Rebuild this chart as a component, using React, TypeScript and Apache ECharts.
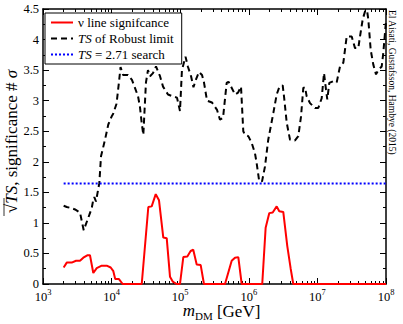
import React, { useEffect, useRef } from 'react';
import * as echarts from 'echarts';

const FONT = '"Liberation Serif", "DejaVu Serif", serif';

// TS of Robust limit (black dashed)
const robustMass = [2000, 2220, 2620, 2930, 3460, 3920, 4730, 5130, 5410, 5600, 5920, 6620, 7010, 8010, 8950, 10000, 10500, 11800, 12800, 13500, 14700, 17300, 19800, 21900, 24300, 25900, 27500, 29000, 31700, 33900, 36300, 40100, 44400, 50800, 56200, 66400, 78500, 89800, 99300, 106000, 119500, 130000, 144000, 156000, 170000, 188000, 208000, 222000, 246000, 291000, 344000, 380000, 421000, 476000, 506000, 569000, 629000, 696000, 770000, 831000, 880000, 983000, 1.10e6, 1.23e6, 1.30e6, 1.42e6, 1.56e6, 1.72e6, 1.92e6, 2.28e6, 2.55e6, 2.78e6, 3.12e6, 3.26e6, 3.57e6, 3.99e6, 4.72e6, 5.27e6, 5.77e6, 6.23e6, 6.60e6, 6.98e6, 7.80e6, 9.23e6, 1.03e7, 1.155e7, 1.248e7, 1.335e7, 1.394e7, 1.491e7, 1.705e7, 1.911e7, 2.135e7, 2.386e7, 2.674e7, 3.162e7, 3.533e7, 3.947e7, 4.178e7, 4.574e7, 4.942e7, 5.284e7, 5.521e7, 5.984e7, 6.53e7, 7.15e7, 7.72e7, 8.66e7, 9.13e7, 1e8];
const robustTS = [1.28, 1.26, 1.24, 1.22, 1.17, 0.88, 1.13, 1.24, 1.38, 1.42, 1.35, 1.65, 2.09, 2.36, 2.61, 2.74, 2.78, 2.95, 3.3, 3.55, 3.42, 3.42, 3.34, 3.21, 3.07, 2.9, 2.63, 2.44, 3.3, 3.5, 3.4, 3.45, 3.56, 3.4, 3.23, 3.1, 3.07, 3.05, 2.83, 3.5, 3.72, 3.55, 3.4, 3.22, 3.35, 3.47, 3.42, 3.3, 3.0, 2.97, 2.85, 2.69, 2.72, 3.29, 3.31, 3.2, 3.1, 3.13, 3.23, 2.5, 2.44, 2.42, 2.31, 2.14, 1.98, 1.68, 1.68, 1.92, 2.36, 2.8, 3.1, 3.22, 3.25, 3.07, 2.64, 2.36, 2.35, 2.42, 2.74, 3.21, 3.22, 3.07, 2.96, 2.88, 2.88, 3.04, 3.45, 3.18, 3.02, 3.29, 3.32, 3.3, 3.56, 3.62, 4.05, 4.05, 3.86, 3.86, 4.05, 4.33, 4.46, 4.48, 4.33, 3.83, 3.59, 3.43, 3.5, 3.56, 3.78, 4.3];

// nu line significance (red)
const lineMass = [2000, 2220, 2620, 3030, 3460, 3870, 4420, 4840, 5410, 6070, 7170, 8480, 9700, 10600, 11300, 12800, 14500, 27500, 34300, 38400, 44000, 49100, 56700, 63600, 71000, 77700, 88900, 99300, 111000, 127000, 142000, 155000, 174000, 199000, 222000, 450000, 563000, 629000, 703000, 788000, 1.57e6, 1.76e6, 1.99e6, 2.23e6, 2.55e6, 2.78e6, 3.18e6, 3.64e6, 4.08e6, 4.45e6, 1e8];
const lineSig = [0.27, 0.35, 0.35, 0.38, 0.38, 0.43, 0.47, 0.47, 0.18, 0.26, 0.30, 0.30, 0.27, 0.21, 0.08, 0.08, 0, 0, 1.26, 1.27, 1.47, 1.37, 0.76, 0.75, 0.12, 0.04, 0, 0, 0.44, 0.45, 0.54, 0.56, 0.32, 0.31, 0, 0, 0.38, 0.43, 0.44, 0, 0, 0.92, 1.16, 1.17, 1.27, 1.19, 1.18, 0.62, 0.25, 0, 0];

// TS = 2.71 search level (blue dotted)
const searchMass = [2000, 1e8];
const searchLevel = [1.645, 1.645];

const yTickLabels = ['0', '0.5', '1', '1.5', '2', '2.5', '3', '3.5', '4', '4.5'];

const seriesNames = ['ν line signifcance', 'TS of Robust limit', 'TS = 2.71 search'];
const legendLabels: Record<string, string> = {
  'ν line signifcance': 'ν line signifcance',
  'TS of Robust limit': '{i|TS} of Robust limit',
  'TS = 2.71 search': '{i|TS} = 2.71 search',
};
const creditText = 'El Aisati, Gustafsson, Hambye (2015)';

const zip = (xs: number[], ys: number[]) => xs.map((x, i) => [x, ys[i]]);

export default function App() {
  const ref = useRef<HTMLDivElement>(null);
  useEffect(() => {
    const chart = echarts.init(ref.current!, null, { renderer: 'svg' });
    const axisCommon = {
      axisLine: { show: true, onZero: false, lineStyle: { color: '#000', width: 1.5 } },
      splitLine: { show: false },
    };
    const xBase = {
      type: 'log',
      logBase: 10,
      min: 1000,
      max: 1e8,
      ...axisCommon,
      axisTick: { show: true, inside: true, length: 6, lineStyle: { color: '#000', width: 1 } },
      minorTick: { show: true, splitNumber: 9, length: 3, lineStyle: { color: '#000', width: 1 } },
    };
    const yBase = {
      type: 'value',
      min: 0,
      max: 4.5,
      interval: 0.5,
      ...axisCommon,
      axisTick: { show: true, inside: true, length: 6, lineStyle: { color: '#000', width: 1 } },
      minorTick: { show: true, splitNumber: 2, length: 3, lineStyle: { color: '#000', width: 1 } },
    };
    chart.setOption({
      animation: false,
      backgroundColor: '#fff',
      textStyle: { fontFamily: FONT },
      grid: { left: 43, right: 17, top: 9, bottom: 40, containLabel: false, outerBoundsMode: 'none' },
      xAxis: [
        {
          ...xBase,
          position: 'bottom',
          axisLabel: {
            margin: 3,
            formatter: (v: number) => `{b|10}{s|${Math.round(Math.log10(v))}}`,
            rich: {
              b: { fontFamily: FONT, fontSize: 12.5, color: '#000', lineHeight: 16, verticalAlign: 'bottom' },
              s: { fontFamily: FONT, fontSize: 8.5, color: '#000', lineHeight: 10, verticalAlign: 'top' },
            },
          },
          name: '{i|m}{sub|DM} [GeV]',
          nameLocation: 'middle',
          nameGap: 18,
          nameMoveOverlap: false,
          nameTextStyle: {
            fontFamily: FONT,
            fontSize: 17,
            color: '#000',
            padding: [0, 0, 0, 14],
            rich: {
              i: { fontFamily: FONT, fontSize: 17, fontStyle: 'italic', color: '#000', lineHeight: 19, verticalAlign: 'top' },
              sub: { fontFamily: FONT, fontSize: 11, color: '#000', lineHeight: 11, verticalAlign: 'bottom' },
            },
          },
        },
        { ...xBase, position: 'top', axisLabel: { show: false } },
      ],
      yAxis: [
        {
          ...yBase,
          position: 'left',
          axisLabel: {
            show: true,
            hideOverlap: false,
            showMinLabel: true,
            showMaxLabel: true,
            margin: 4,
            fontFamily: FONT,
            fontSize: 12.5,
            color: '#000',
            formatter: (v: number) => yTickLabels[Math.round(v / 0.5)] ?? '',
          },
          name: '√{i|TS}, significance # {i|σ}',
          nameLocation: 'middle',
          nameRotate: 90,
          nameGap: 23,
          nameMoveOverlap: false,
          nameTextStyle: {
            fontFamily: FONT,
            fontSize: 17,
            color: '#000',
            padding: [0, 0, 0, 10],
            rich: { i: { fontFamily: FONT, fontSize: 17, fontStyle: 'italic', color: '#000' } },
          },
        },
        { ...yBase, position: 'right', axisLabel: { show: false } },
      ],
      legend: {
        left: 45,
        top: 13,
        orient: 'vertical',
        itemWidth: 22,
        itemHeight: 14,
        itemGap: 3,
        padding: [3, 8, 3, 5],
        borderColor: '#000',
        borderWidth: 1,
        borderRadius: 0,
        backgroundColor: '#fff',
        itemStyle: { opacity: 0 },
        data: seriesNames,
        formatter: (name: string) => legendLabels[name],
        textStyle: {
          fontFamily: FONT,
          fontSize: 13,
          color: '#000',
          rich: { i: { fontFamily: FONT, fontSize: 13, fontStyle: 'italic', color: '#000' } },
        },
      },
      graphic: [
        {
          type: 'text',
          x: 397,
          y: 10,
          rotation: -Math.PI / 2,
          style: {
            text: creditText,
            font: `9.5px ${FONT}`,
            fill: '#000',
            align: 'left',
            verticalAlign: 'top',
          },
        },
        {
          type: 'line',
          shape: { x1: 4, y1: 216, x2: 4, y2: 198 },
          style: { stroke: '#000', lineWidth: 0.8 },
        },
      ],
      series: [
        {
          name: seriesNames[1],
          type: 'line',
          data: zip(robustMass, robustTS),
          showSymbol: false,
          symbol: 'none',
          lineStyle: { color: '#000', width: 2, type: [6, 4] },
          itemStyle: { color: '#000' },
          z: 3,
        },
        {
          name: seriesNames[2],
          type: 'line',
          data: zip(searchMass, searchLevel),
          showSymbol: false,
          symbol: 'none',
          lineStyle: { color: '#0000ff', width: 2, type: [2, 2] },
          itemStyle: { color: '#0000ff' },
          z: 4,
        },
        {
          name: seriesNames[0],
          type: 'line',
          data: zip(lineMass, lineSig),
          showSymbol: false,
          symbol: 'none',
          lineStyle: { color: '#ff0000', width: 2 },
          itemStyle: { color: '#ff0000' },
          z: 5,
        },
      ],
    });
    return () => chart.dispose();
  }, []);
  return <div ref={ref} style={{ position: 'fixed', left: 0, top: 0, width: 403, height: 324 }} />;
}
